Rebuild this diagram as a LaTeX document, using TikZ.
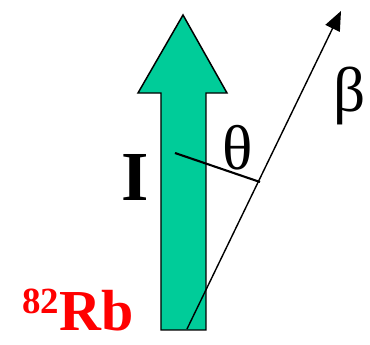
\documentclass[tikz,border=0pt]{standalone}
\usepackage{fontspec}
\setmainfont{Liberation Serif}
\usetikzlibrary{arrows.meta}

\definecolor{spingreen}{HTML}{00CC99}

\begin{document}
\begin{tikzpicture}[
  x=0.02cm, y=-0.02cm,
  spinarrow/.style={draw=black, line width=0.85pt, fill=spingreen, line join=miter},
  betaline/.style={-{Triangle[length=11pt,width=9pt]}, line width=0.8pt},
  anglestyle/.style={line width=1.2pt},
  biglabel/.style={inner sep=0pt, anchor=base, font=\fontsize{36pt}{36pt}\selectfont}
]
\useasboundingbox (0,0) rectangle (370,345);

% spin arrow I
\draw[spinarrow] (161,330) -- (161,93) -- (138,93) -- (183,15) -- (227,93)
  -- (206,93) -- (206,330) -- cycle;

\coordinate (start) at (187,329);
\coordinate (tip) at (341,11);
\coordinate (axis) at (175,153);
\coordinate (foot) at (260,182);

\draw[betaline] (start) -- (tip);
\draw[anglestyle] (axis) -- (foot);

\node[biglabel, font=\fontsize{40pt}{40pt}\selectfont\bfseries] (spin) at (135,200) {I};
\node[biglabel] (theta) at (238,170) {θ};
\node[biglabel] (beta) at (350,112) {β};
\node[inner sep=0pt, anchor=base west, text=red, font=\fontsize{33pt}{33pt}\selectfont\bfseries]
  (rb) at (22,331) {\raisebox{10pt}{\fontsize{21pt}{21pt}\selectfont 82}Rb};
\end{tikzpicture}
\end{document}
